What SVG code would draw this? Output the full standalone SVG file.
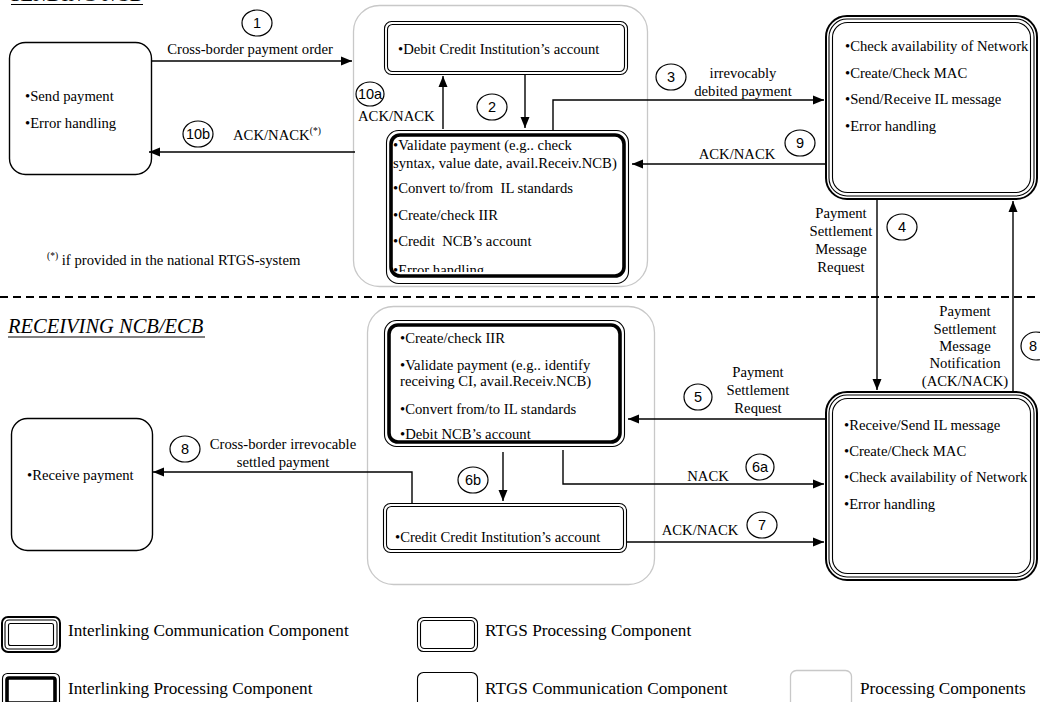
<svg xmlns="http://www.w3.org/2000/svg" width="1040" height="702" viewBox="0 0 1040 702">
  <style>
    text { font-family: "Liberation Serif", "Times New Roman", serif; fill: #000; }
    .t { font-size: 14.7px; }
    .lg { font-size: 17.2px; }
    .ttl { font-size: 20.5px; font-style: italic; }
    .num { font-family: "Liberation Sans", Arial, sans-serif; font-size: 14.5px; text-anchor: middle; }
    .mid { text-anchor: middle; }
    .ln { fill: none; stroke: #000; stroke-width: 1.4; }
    .thin { fill: none; stroke: #000; stroke-width: 1.1; }
    .thick { fill: none; stroke: #000; stroke-width: 3.6; }
    .outer { fill: #fff; stroke: #000; stroke-width: 2; }
    .grey { fill: none; stroke: #c8c8c8; stroke-width: 1.3; }
    .bg { fill: #fff; }
    .circ { fill: #fff; stroke: #000; stroke-width: 1.2; }
    .sup { font-size: 9.5px; }
  </style>
  <defs>
    <marker id="ah" markerUnits="userSpaceOnUse" markerWidth="12" markerHeight="10" refX="11" refY="5" orient="auto">
      <path d="M0,0.5 L11,5 L0,9.5 Z" fill="#000"/>
    </marker>
    <clipPath id="clipTop">
      <rect x="386" y="130" width="244" height="142"/>
    </clipPath>
  </defs>

  <rect width="1040" height="702" fill="#fff"/>

  <!-- section titles -->
  <text class="ttl" x="11" y="1">SENDING NCB</text>
  <line x1="11" y1="4.5" x2="143" y2="4.5" stroke="#000" stroke-width="1.2"/>
  <text class="ttl" x="8" y="333">RECEIVING NCB/ECB</text>
  <line x1="8" y1="337" x2="205" y2="337" stroke="#000" stroke-width="1.2"/>

  <!-- separator between sending and receiving side -->
  <line x1="0" y1="297" x2="1040" y2="297" stroke="#000" stroke-width="2" stroke-dasharray="8 5"/>

  <!-- processing component frames -->
  <rect id="proc-sending" class="grey" x="353.5" y="5.5" width="294" height="281" rx="26"/>
  <rect id="proc-receiving" class="grey" x="367.5" y="306.5" width="287" height="278" rx="26"/>

  <!-- footnote -->
  <text class="t" x="47" y="265"><tspan class="sup" dy="-6">(*)</tspan><tspan dy="6"> if provided in the national RTGS-system</tspan></text>

  <!-- sending RTGS communication -->
  <g id="send-rtgs-comm">
    <rect class="bg" x="9.5" y="42.5" width="142" height="132" rx="16" stroke="#000" stroke-width="1.4"/>
    <text class="t" x="25" y="101">•Send payment</text>
    <text class="t" x="25" y="128">•Error handling</text>
  </g>

  <!-- sending RTGS processing -->
  <g id="send-rtgs-proc">
    <rect class="bg" x="384.5" y="21.5" width="243" height="53" rx="7" stroke="#000" stroke-width="1.1"/>
    <rect class="thin" x="387.5" y="24.5" width="237" height="47" rx="5"/>
    <text class="t" x="398" y="54">•Debit Credit Institution’s account</text>
  </g>

  <!-- sending interlinking processing -->
  <g id="send-il-proc">
    <rect class="bg" x="386.5" y="130.5" width="242" height="153" rx="12" stroke="#000" stroke-width="1.1"/>
    <g clip-path="url(#clipTop)">
      <text class="t" x="393" y="150">•Validate payment (e.g.. check</text>
      <text class="t" x="393" y="168">syntax, value date, avail.Receiv.NCB)</text>
      <text class="t" x="393" y="193" xml:space="preserve">•Convert to/from  IL standards</text>
      <text class="t" x="393" y="220">•Create/check IIR</text>
      <text class="t" x="393" y="246" xml:space="preserve">•Credit  NCB’s account</text>
      <text class="t" x="393" y="275">•Error handling</text>
    </g>
    <rect class="thick" x="391" y="135" width="233" height="141" rx="9"/>
  </g>

  <!-- sending interlinking communication -->
  <g id="send-il-comm">
    <rect class="outer" x="826" y="16" width="211" height="183" rx="21"/>
    <rect class="thin" x="829" y="19" width="205" height="177" rx="18"/>
    <rect class="thin" x="832.5" y="22.5" width="198" height="170" rx="15"/>
    <text class="t" x="845" y="51">•Check availability of Network</text>
    <text class="t" x="845" y="78">•Create/Check MAC</text>
    <text class="t" x="845" y="104">•Send/Receive IL message</text>
    <text class="t" x="845" y="131">•Error handling</text>
  </g>

  <!-- receiving interlinking processing -->
  <g id="recv-il-proc">
    <rect class="bg" x="384.5" y="320.5" width="240" height="126" rx="12" stroke="#000" stroke-width="1.1"/>
    <rect class="thick" x="389" y="325" width="231" height="117" rx="9"/>
    <text class="t" x="400" y="343">•Create/check IIR</text>
    <text class="t" x="400" y="370">•Validate payment (e.g.. identify</text>
    <text class="t" x="400" y="386">receiving CI, avail.Receiv.NCB)</text>
    <text class="t" x="400" y="414">•Convert from/to IL standards</text>
    <text class="t" x="400" y="439">•Debit NCB’s account</text>
  </g>

  <!-- receiving RTGS processing -->
  <g id="recv-rtgs-proc">
    <rect class="bg" x="383.5" y="503.5" width="243" height="49" rx="7" stroke="#000" stroke-width="1.1"/>
    <rect class="thin" x="386.5" y="506.5" width="237" height="43" rx="5"/>
    <text class="t" x="395" y="542">•Credit Credit Institution’s account</text>
  </g>

  <!-- receiving interlinking communication -->
  <g id="recv-il-comm">
    <rect class="outer" x="826" y="392" width="211" height="188" rx="21"/>
    <rect class="thin" x="829" y="395" width="205" height="182" rx="18"/>
    <rect class="thin" x="832.5" y="398.5" width="198" height="175" rx="15"/>
    <text class="t" x="844" y="430">•Receive/Send IL message</text>
    <text class="t" x="844" y="456">•Create/Check MAC</text>
    <text class="t" x="844" y="482">•Check availability of Network</text>
    <text class="t" x="844" y="509">•Error handling</text>
  </g>

  <!-- receiving RTGS communication -->
  <g id="recv-rtgs-comm">
    <rect class="bg" x="11.5" y="418.5" width="141" height="132" rx="16" stroke="#000" stroke-width="1.4"/>
    <text class="t" x="27" y="480">•Receive payment</text>
  </g>

  <!-- message flows -->
  <g id="connectors">
    <path class="ln" d="M152,61 H352" marker-end="url(#ah)"/>
    <path class="ln" d="M355,152 H149" marker-end="url(#ah)"/>
    <path class="ln" d="M443,129 V76" marker-end="url(#ah)"/>
    <path class="ln" d="M525,75 V128" marker-end="url(#ah)"/>
    <path class="ln" d="M553,130 V100 H824" marker-end="url(#ah)"/>
    <path class="ln" d="M825,164 H632" marker-end="url(#ah)"/>
    <path class="ln" d="M877,200 V390" marker-end="url(#ah)"/>
    <path class="ln" d="M1013,392 V201" marker-end="url(#ah)"/>
    <path class="ln" d="M825,419 H628" marker-end="url(#ah)"/>
    <path class="ln" d="M563,450 V484 H824" marker-end="url(#ah)"/>
    <path class="ln" d="M627,542 H824" marker-end="url(#ah)"/>
    <path class="ln" d="M503,452 V501" marker-end="url(#ah)"/>
    <path class="ln" d="M412,503 V472 H153" marker-end="url(#ah)"/>

    <!-- flow labels -->
    <text class="t mid" x="250" y="54">Cross-border payment order</text>
    <text class="t" x="233" y="140">ACK/NACK<tspan class="sup" dy="-6">(*)</tspan></text>
    <text class="t" x="358" y="121">ACK/NACK</text>
    <text class="t mid" x="743" y="78">irrevocably</text>
    <text class="t mid" x="743" y="96">debited payment</text>
    <text class="t mid" x="737" y="159">ACK/NACK</text>
    <text class="t mid" x="841" y="218">Payment</text>
    <text class="t mid" x="841" y="236">Settlement</text>
    <text class="t mid" x="841" y="254">Message</text>
    <text class="t mid" x="841" y="272">Request</text>
    <text class="t mid" x="965" y="316">Payment</text>
    <text class="t mid" x="965" y="334">Settlement</text>
    <text class="t mid" x="965" y="351">Message</text>
    <text class="t mid" x="965" y="368">Notification</text>
    <text class="t mid" x="965" y="386">(ACK/NACK)</text>
    <text class="t mid" x="758" y="377">Payment</text>
    <text class="t mid" x="758" y="395">Settlement</text>
    <text class="t mid" x="758" y="413">Request</text>
    <text class="t mid" x="708" y="481">NACK</text>
    <text class="t mid" x="700" y="535">ACK/NACK</text>
    <text class="t mid" x="283" y="449">Cross-border irrevocable</text>
    <text class="t mid" x="283" y="467">settled payment</text>

    <!-- step numbers -->
    <ellipse class="circ" cx="257" cy="23" rx="15" ry="13"/>
    <text class="num" x="257" y="28">1</text>
    <ellipse class="circ" cx="198" cy="134" rx="15" ry="13"/>
    <text class="num" x="198" y="139">10b</text>
    <ellipse class="circ" cx="370" cy="94" rx="14" ry="12"/>
    <text class="num" x="370" y="99">10a</text>
    <ellipse class="circ" cx="492" cy="107" rx="15" ry="13"/>
    <text class="num" x="492" y="112">2</text>
    <ellipse class="circ" cx="671" cy="77" rx="15" ry="13"/>
    <text class="num" x="671" y="82">3</text>
    <ellipse class="circ" cx="800" cy="143" rx="15" ry="13"/>
    <text class="num" x="800" y="148">9</text>
    <ellipse class="circ" cx="902" cy="227" rx="15" ry="13"/>
    <text class="num" x="902" y="232">4</text>
    <ellipse class="circ" cx="1036" cy="346" rx="15" ry="14"/>
    <text class="num" x="1033" y="351">8</text>
    <ellipse class="circ" cx="698" cy="397" rx="14" ry="13"/>
    <text class="num" x="698" y="402">5</text>
    <ellipse class="circ" cx="760" cy="467" rx="14" ry="13"/>
    <text class="num" x="760" y="472">6a</text>
    <ellipse class="circ" cx="762" cy="525" rx="15" ry="13"/>
    <text class="num" x="762" y="530">7</text>
    <ellipse class="circ" cx="473" cy="480" rx="15" ry="13"/>
    <text class="num" x="473" y="485">6b</text>
    <ellipse class="circ" cx="185" cy="449" rx="15" ry="13"/>
    <text class="num" x="185" y="454">8</text>
  </g>

  <!-- legend -->
  <g id="legend-il-comm">
    <rect class="outer" x="2" y="617" width="58" height="35" rx="6"/>
    <rect class="thin" x="5" y="620" width="52" height="29" rx="4"/>
    <rect class="thin" x="8.5" y="623.5" width="45" height="22" rx="2"/>
    <text class="lg" x="68" y="636">Interlinking Communication Component</text>
  </g>
  <g id="legend-il-proc">
    <rect class="bg" x="2.5" y="673.5" width="57" height="34" rx="5" stroke="#000" stroke-width="1.1"/>
    <rect class="thick" x="7" y="678" width="48" height="25" rx="2"/>
    <text class="lg" x="68" y="694">Interlinking Processing Component</text>
  </g>
  <g id="legend-rtgs-proc">
    <rect class="bg" x="417.5" y="617.5" width="60" height="34" rx="6" stroke="#000" stroke-width="1.1"/>
    <rect class="thin" x="420.5" y="620.5" width="54" height="28" rx="4"/>
    <text class="lg" x="485" y="636">RTGS Processing Component</text>
  </g>
  <g id="legend-rtgs-comm">
    <rect class="bg" x="417.5" y="672.5" width="60" height="40" rx="6" stroke="#000" stroke-width="1.1"/>
    <text class="lg" x="485" y="694">RTGS Communication Component</text>
  </g>
  <g id="legend-proc">
    <rect class="grey" x="790.5" y="670.5" width="61" height="42" rx="6"/>
    <text class="lg" x="860" y="694">Processing Components</text>
  </g>
</svg>
